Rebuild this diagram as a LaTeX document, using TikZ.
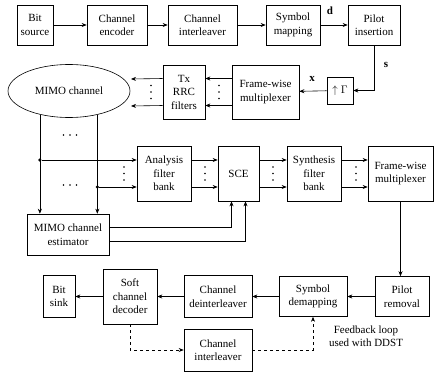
\documentclass[tikz,border=0pt]{standalone}
\usepackage{fontspec}
\setmainfont{Liberation Serif}
\usetikzlibrary{shapes.geometric,arrows.meta}

\begin{document}
\begin{tikzpicture}[x=1pt, y=-1pt, line width=0.6pt, font=\fontsize{11}{13.5}\selectfont]
      \tikzstyle{arrow} = [->, >={Stealth[length=5pt, width=4pt]}]
      \tikzstyle{block} = [rectangle, draw=black, align=center, inner sep=1pt, minimum height=40pt]
      \tikzstyle{tap} = [circle, fill=black, minimum size=3.5pt, inner sep=0pt]
      \tikzstyle{vdots} = [inner sep=0pt, minimum width=3pt, minimum height=16pt,
        path picture={\foreach \k in {-6.5,0,6.5} \fill ([yshift=\k pt]path picture bounding box.center) circle (0.9pt);}]
      \tikzstyle{hdots} = [inner sep=0pt, minimum width=16pt, minimum height=3pt,
        path picture={\foreach \k in {-6.5,0,6.5} \fill ([xshift=\k pt]path picture bounding box.center) circle (0.9pt);}]

      \useasboundingbox (0,0) rectangle (435,377);

      % transmitter chain
      \node (bsrc) [block, minimum width=36pt] at (35,25) {Bit\\source};
      \node (cenc) [block, minimum width=60pt] at (117,25) {Channel\\encoder};
      \node (cint) [block, minimum width=69pt] at (202.5,25) {Channel\\interleaver};
      \node (smap) [block, minimum width=54pt] at (293,25) {Symbol\\mapping};
      \node (pins) [block, minimum width=52pt] at (374,25) {Pilot\\insertion};
      \node (up) [block, minimum width=26pt, minimum height=27pt] at (340,90.5) {$\uparrow\Gamma$};
      \node (fwmA) [block, minimum width=67pt, minimum height=54pt] at (265.5,92) {Frame-wise\\multiplexer};
      \node (tx) [block, minimum width=42pt, minimum height=54pt] at (184,92) {Tx\\RRC\\filters};
      \node (chan) [ellipse, draw, minimum width=122pt, minimum height=53pt, inner sep=0pt] at (69,91) {MIMO channel};
      \coordinate (outA) at (131,79);
      \coordinate (outB) at (131,106);

      \node (lbl-d) at (330,11) {\textbf{d}};
      \node (lbl-s) at (386,65) {\textbf{s}};
      \node (lbl-x) at (312,79) {\textbf{x}};

      \draw [arrow] (bsrc) -- (cenc);
      \draw [arrow] (cenc) -- (cint);
      \draw [arrow] (cint) -- (smap);
      \draw [arrow] (smap) -- (pins);
      \draw [arrow] (pins.south) |- (up.east);
      \draw [arrow] (up) -- (fwmA);
      \draw [arrow] ([yshift=13.5pt]fwmA.west) -- ([yshift=13.5pt]tx.east);
      \draw [arrow] ([yshift=-13.5pt]fwmA.west) -- ([yshift=-13.5pt]tx.east);
      \draw [arrow] ([yshift=13.5pt]tx.west) -- (outA);
      \draw [arrow] ([yshift=-13.5pt]tx.west) -- (outB);
      \node (dots-fwmA) [vdots] at (219,92) {};
      \node (dots-tx) [vdots] at (151,92) {};

      % receiver front end
      \node (afb) [block, minimum width=54pt, minimum height=55pt] at (164,173.5) {Analysis\\filter\\bank};
      \node (sce) [block, minimum width=41pt, minimum height=55pt] at (238.5,173.5) {SCE};
      \node (sfb) [block, minimum width=54pt, minimum height=55pt] at (314,173.5) {Synthesis\\filter\\bank};
      \node (fwmB) [block, minimum width=65pt, minimum height=55pt] at (400.5,173.5) {Frame-wise\\multiplexer};
      \node (est) [block, minimum width=82pt, minimum height=41pt] at (68,234.5) {MIMO channel\\estimator};
      \coordinate (afbA) at ([yshift=13.5pt]afb.west);
      \coordinate (afbB) at ([yshift=-13.5pt]afb.west);

      \draw [arrow] (chan.219) -- (chan.219 |- est.north);
      \draw [arrow] (chan.320) -- (chan.320 |- est.north);
      \node (tapA) [tap] at (chan.219 |- afbA) {};
      \node (tapB) [tap] at (chan.320 |- afbB) {};
      \draw [arrow] (tapA) -- (afbA);
      \draw [arrow] (tapB) -- (afbB);
      \node (dots-chA) [hdots] at (70,135) {};
      \node (dots-chB) [hdots] at (70,185) {};
      \node (dots-afb) [vdots] at (124,173.5) {};

      \foreach \a/\b in {afb/sce, sce/sfb, sfb/fwmB}
      {
        \draw [arrow] ([yshift=13.5pt]\a.east) -- ([yshift=13.5pt]\b.west);
        \draw [arrow] ([yshift=-13.5pt]\a.east) -- ([yshift=-13.5pt]\b.west);
      }
      \node (dots-sce) [vdots] at (205,173.5) {};
      \node (dots-sfb) [vdots] at (273,173.5) {};
      \node (dots-fwmB) [vdots] at (356,173.5) {};

      \draw [arrow] ([yshift=7pt]est.east) -| ([xshift=-7pt]sce.south);
      \draw [arrow] ([yshift=-7pt]est.east) -| ([xshift=7pt]sce.south);

      % receiver back end
      \node (prem) [block, minimum width=54pt] at (402,296.5) {Pilot\\removal};
      \node (sdem) [block, minimum width=68pt] at (313,296.5) {Symbol\\demapping};
      \node (cdei) [block, minimum width=68pt, minimum height=42pt] at (218,296.5) {Channel\\deinterleaver};
      \node (sdec) [block, minimum width=54pt, minimum height=55pt] at (130,296.5) {Soft\\channel\\decoder};
      \node (bsnk) [block, minimum width=32pt, minimum height=42pt] at (59,296.5) {Bit\\sink};
      \node (cintB) [block, minimum width=68pt, minimum height=42pt] at (218,350) {Channel\\interleaver};
      \node (lbl-fb) [align=center] at (366,336) {Feedback loop\\used with DDST};

      \draw [arrow] (fwmB.south) -- (fwmB.south |- prem.north);
      \draw [arrow] (prem) -- (sdem);
      \draw [arrow] (sdem) -- (cdei);
      \draw [arrow] (cdei) -- (sdec);
      \draw [arrow] (sdec) -- (bsnk);
      \draw [arrow, dashed] (sdec.south) |- (cintB.west);
      \draw [arrow, dashed] (cintB.east) -| (sdem.south);
\end{tikzpicture}
\end{document}
